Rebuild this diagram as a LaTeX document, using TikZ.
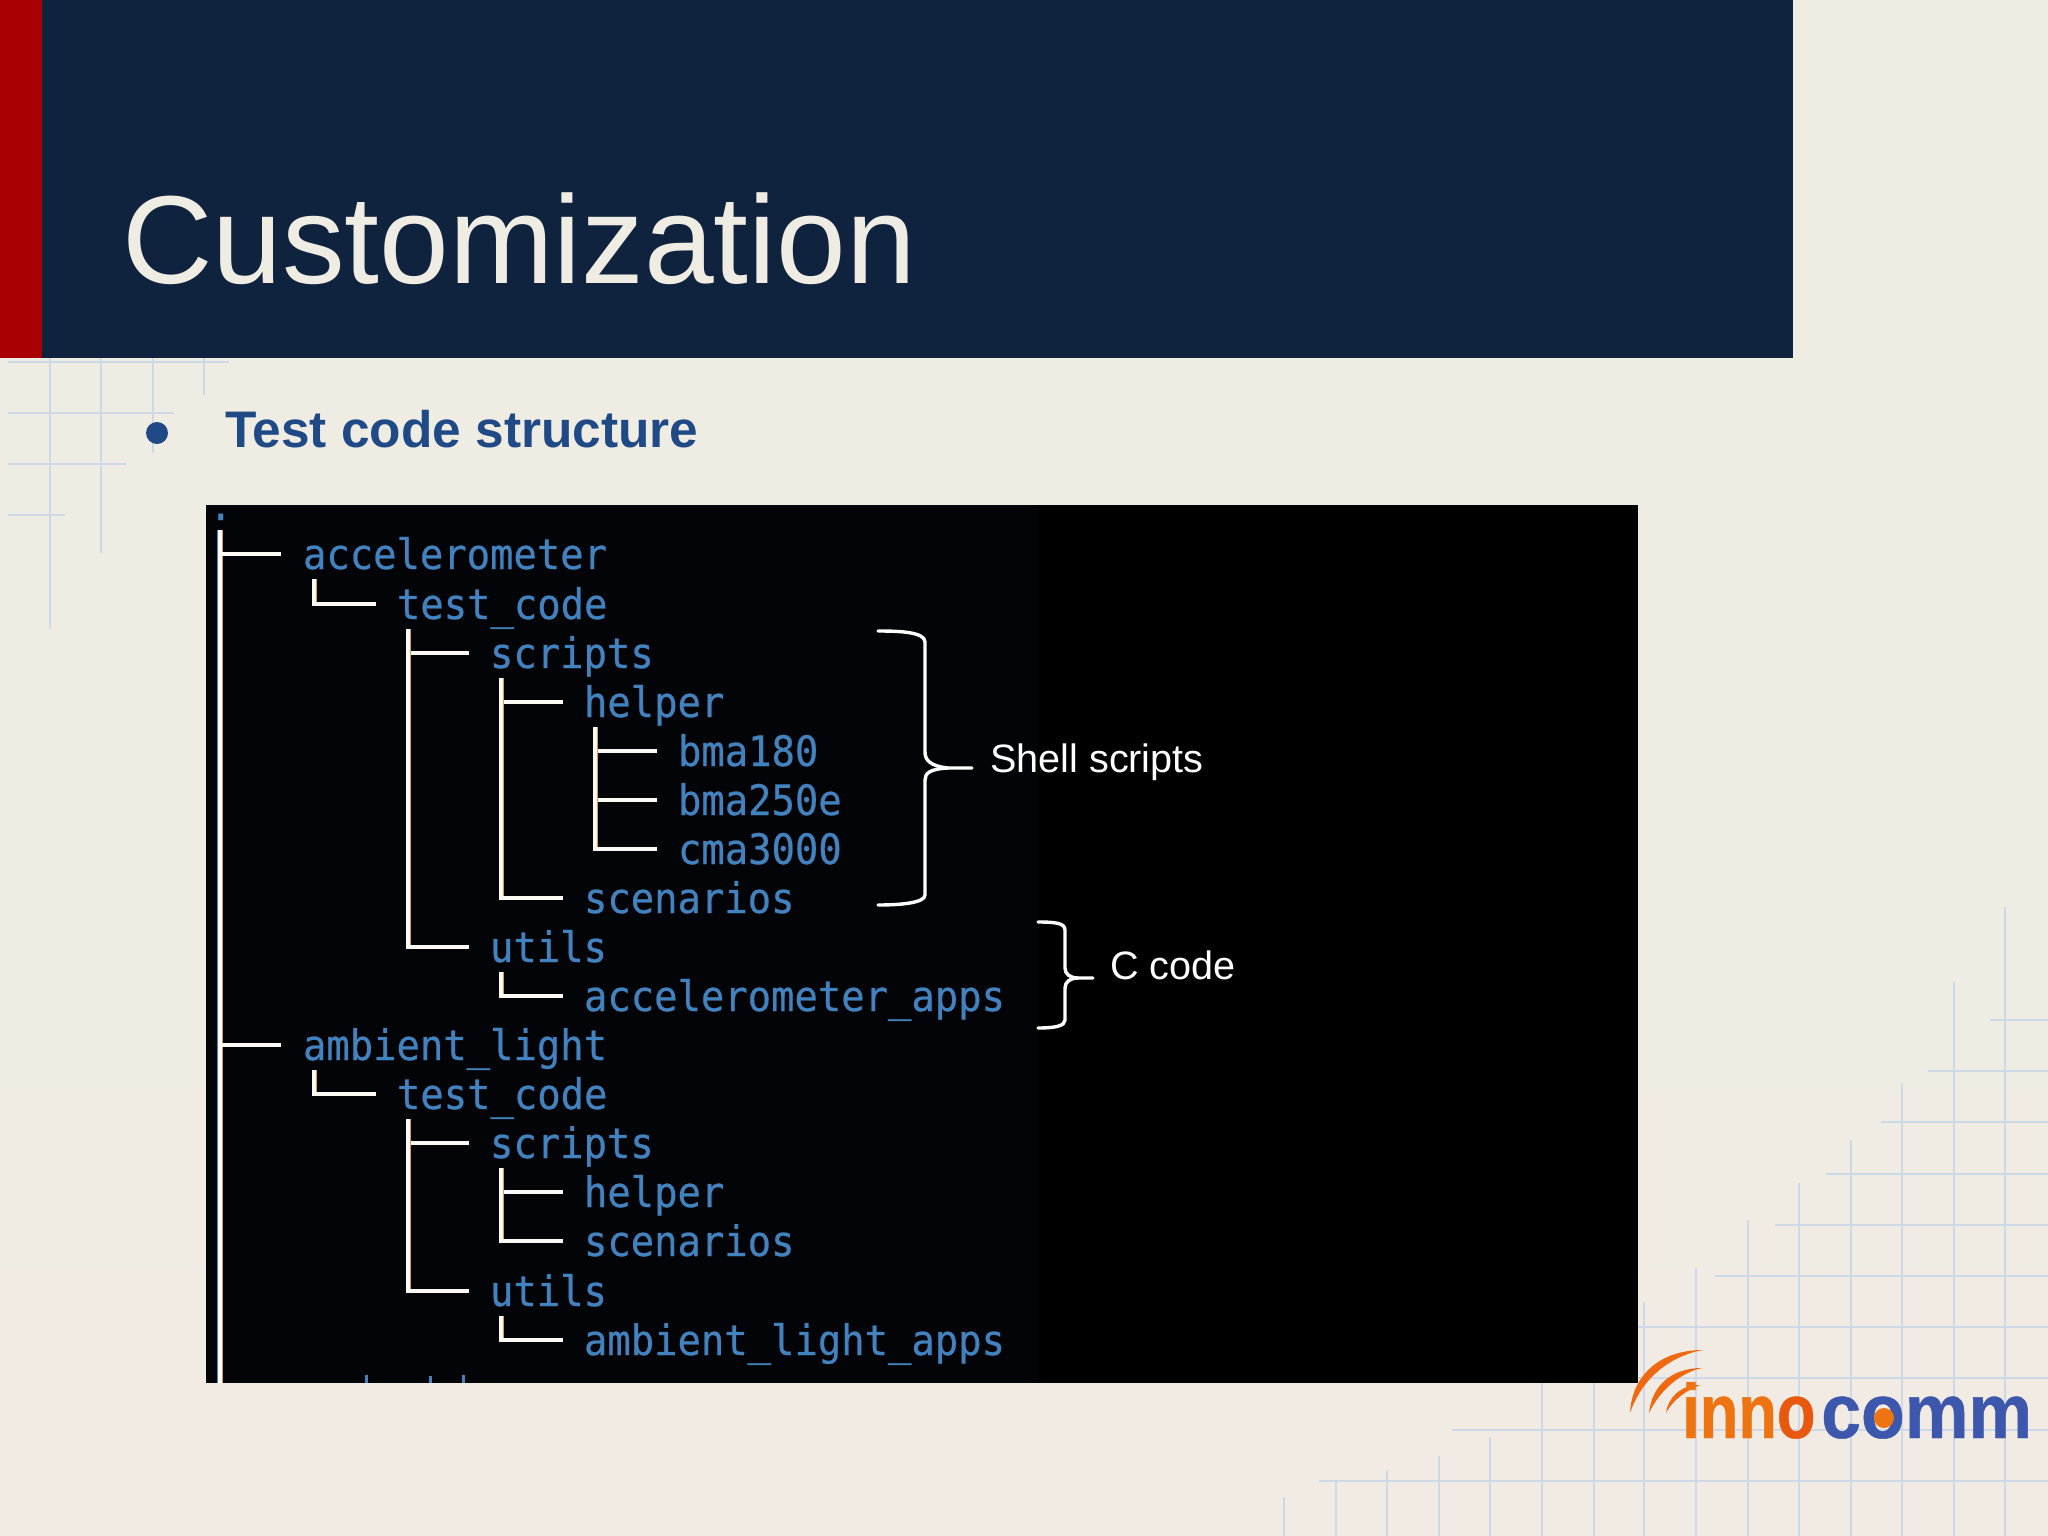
\documentclass[tikz,border=0pt]{standalone}
\usepackage{fontspec}
\setmainfont{Liberation Sans}
\newfontfamily\termfont[FakeStretch=0.925,FakeBold=0.5]{DejaVu Sans Mono}
\newfontfamily\logofonta[FakeStretch=0.82,FakeBold=0.6]{Liberation Sans Bold}
\newfontfamily\logofontb[FakeStretch=0.93,FakeBold=0.6]{Liberation Sans Bold}
\definecolor{paper}{HTML}{EFECE3}
\definecolor{paperlow}{HTML}{F2EBE4}
\definecolor{navy}{HTML}{0F223E}
\definecolor{deepred}{HTML}{A80000}
\definecolor{gridblue}{HTML}{CDD9E8}
\definecolor{headblue}{HTML}{1F4A85}
\definecolor{termblue}{HTML}{4282BF}
\definecolor{fringe}{HTML}{D99C55}
\definecolor{logoorange}{HTML}{EE7411}
\definecolor{logored}{HTML}{E8590F}
\definecolor{logoblue}{HTML}{3C57AC}
\definecolor{termbg}{HTML}{020408}
\tikzset{
  gridline/.style={draw=gridblue,line width=2pt},
  termtext/.style={text=termblue,anchor=west,inner sep=0pt,outer sep=0pt,text height=40pt,text depth=10pt,font=\fontsize{42}{42}\termfont},
  treeline/.style={draw=white!94!fringe,line width=3.2pt},
  fringeline/.style={draw=fringe,line width=2pt},
  bracketline/.style={draw=white,line width=3.4pt,line cap=round},
  notelabel/.style={text=white,anchor=base west,inner sep=0pt,font=\fontsize{39.6}{39.6}\selectfont},
}
\newcommand{\treelink}[2]{%
  \draw[fringeline] ([xshift=12.6pt]#1.south west) -- ([xshift=12.6pt]#1.south west |- #2.west);
  \draw[treeline] ([xshift=11pt]#1.south west) |- ([xshift=-21pt]#2.west);
}
\begin{document}
\begin{tikzpicture}[x=1pt,y=-1pt]
\useasboundingbox (0,0) rectangle (2048,1536);
% background
\fill[paper] (0,0) rectangle (2048,1536);
\shade[top color=paper,bottom color=paperlow] (0,1000) rectangle (2048,1536);
% grid top left
\foreach \yy/\xx in {362/229,413/174,464/126,515/65} \draw[gridline] (8,\yy) -- (\xx,\yy);
\foreach \xx/\yy in {50/629,101/553,153/453,204/395} \draw[gridline] (\xx,358) -- (\xx,\yy);
% grid bottom right
\foreach \xx/\yy in {2005/907,1954/982,1902/1083,1851/1140,1799/1183,1748/1220,1696/1268,1644/1302,1594/1383,1542/1383,1490/1437,1439/1456,1387/1470,1336/1480,1284/1497}
  \draw[gridline] (\xx,\yy) -- (\xx,1536);
\foreach \yy/\xx in {1020/1990,1071/1928,1122/1881,1174/1826,1225/1775,1276/1715,1327/1638,1378/1638,1430/1452,1481/1319}
  \draw[gridline] (\xx,\yy) -- (2048,\yy);
% header
\fill[navy] (0,0) rectangle (1793,358);
\fill[deepred] (0,0) rectangle (42,358);
\node[anchor=base west,inner sep=0pt,text=paper,font=\fontsize{125.3}{125}\selectfont] (title) at (122,283) {Customization};
% bullet
\fill[headblue] (157,433) circle (11);
\node[anchor=base west,inner sep=0pt,text=headblue,font=\fontsize{51.4}{51}\selectfont\bfseries] (heading) at (225,447) {Test code structure};
% terminal
\fill[black] (206,505) rectangle (1638,1383);
\fill[termbg] (206,505) rectangle (1038,1383);
% tree labels
\node[termtext] (root) at (209,505) {.};
\node[termtext] (accel) at (303,554) {accelerometer};
\node[termtext] (tc1) at (397,604) {test\_code};
\node[termtext] (sc1) at (490,653) {scripts};
\node[termtext] (he1) at (584,702) {helper};
\node[termtext] (bma1) at (678,751) {bma180};
\node[termtext] (bma2) at (678,800) {bma250e};
\node[termtext] (cma) at (678,849) {cma3000};
\node[termtext] (sn1) at (584,898) {scenarios};
\node[termtext] (ut1) at (490,947) {utils};
\node[termtext] (aapps) at (584,996) {accelerometer\_apps};
\node[termtext] (ambient) at (303,1045) {ambient\_light};
\node[termtext] (tc2) at (397,1094) {test\_code};
\node[termtext] (sc2) at (490,1143) {scripts};
\node[termtext] (he2) at (584,1192) {helper};
\node[termtext] (sn2) at (584,1241) {scenarios};
\node[termtext] (ut2) at (490,1291) {utils};
\node[termtext] (lapps) at (584,1340) {ambient\_light\_apps};
\coordinate (treeend) at (220,1383);
% tree connectors
\draw[fringeline] ([xshift=1.6pt]root.south west -| treeend) -- ([xshift=1.6pt]treeend);
\draw[draw=termblue,line width=2pt] ([xshift=-1.6pt]root.south west -| treeend) -- ([xshift=-1.6pt]treeend);
\draw[treeline] (root.south west -| treeend) -- (treeend);
\draw[treeline] (accel.west -| treeend) -- ([xshift=-22pt]accel.west);
\draw[treeline] (ambient.west -| treeend) -- ([xshift=-22pt]ambient.west);
\treelink{accel}{tc1}
\treelink{tc1}{sc1}
\treelink{tc1}{ut1}
\treelink{sc1}{he1}
\treelink{sc1}{sn1}
\treelink{he1}{bma1}
\treelink{he1}{bma2}
\treelink{he1}{cma}
\treelink{ut1}{aapps}
\treelink{ambient}{tc2}
\treelink{tc2}{sc2}
\treelink{tc2}{ut2}
\treelink{sc2}{he2}
\treelink{sc2}{sn2}
\treelink{ut2}{lapps}
% tops of the next, cut-off row
\fill[termblue] (365,1375) rectangle (368,1383);
\fill[termblue] (429,1376) rectangle (432,1383);
\fill[termblue] (462,1375) rectangle (465,1383);
% braces
\draw[bracketline] (878,631) .. controls (900,631) and (925,632) .. (925,642) -- (925,752)
  .. controls (925,760) and (930,766) .. (948,768) -- (972,768);
\draw[bracketline] (948,768) .. controls (930,769) and (925,773) .. (925,780) -- (925,895)
  .. controls (925,903) and (900,905) .. (878,905);
\draw[bracketline] (1038,922) .. controls (1055,922) and (1065,923) .. (1065,930) -- (1065,968)
  .. controls (1065,974) and (1070,978) .. (1078,978) -- (1093,978);
\draw[bracketline] (1078,978) .. controls (1070,978) and (1065,982) .. (1065,988) -- (1065,1020)
  .. controls (1065,1026) and (1055,1028) .. (1038,1028);
\node[notelabel] (shell) at (990,772) {Shell scripts};
\node[notelabel] (ccode) at (1110,979) {C code};
% logo
\fill[logoorange!90!red] (1630,1413) .. controls (1632,1375) and (1660,1350) .. (1703,1350)
  .. controls (1670,1356) and (1642,1378) .. (1630,1413) -- cycle;
\fill[logoorange!90!red] (1649,1413) .. controls (1652,1385) and (1672,1368) .. (1702,1368)
  .. controls (1680,1373) and (1660,1390) .. (1649,1413) -- cycle;
\fill[logoorange!90!red] (1666,1413) .. controls (1668,1398) and (1680,1385) .. (1700,1385)
  .. controls (1688,1390) and (1674,1398) .. (1666,1413) -- cycle;
\node[anchor=base west,inner sep=0pt,text=logoorange,font=\fontsize{77}{77}\logofonta] (logoa) at (1682,1438) {inn\textcolor{logored}{o}};
\node[anchor=base west,inner sep=0pt,text=logoblue,font=\fontsize{77}{77}\logofontb] (logob) at (1821,1438) {comm};
\fill[logoorange] (1884,1418) circle (10);
\end{tikzpicture}
\end{document}
